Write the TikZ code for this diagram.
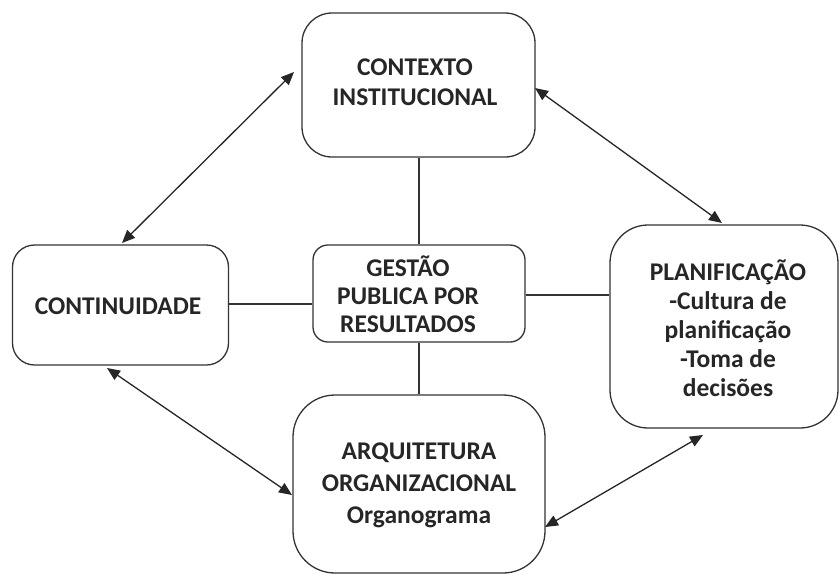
\documentclass[tikz,border=0pt]{standalone}
\usepackage{fontspec}
\setmainfont{Carlito}
\usetikzlibrary{arrows.meta}
\definecolor{linec}{HTML}{333333}
\definecolor{txtc}{HTML}{262626}
\tikzset{
  box/.style={draw=linec, line width=1.3pt, rectangle, inner sep=0pt},
  lbl/.style={align=center, text=txtc, font=\fontsize{25.5}{30}\selectfont\bfseries, inner sep=0pt},
  conn/.style={draw=linec, line width=1.2pt},
  biarrow/.style={draw=txtc, line width=1.3pt, {Triangle[length=13pt,width=11pt]}-{Triangle[length=13pt,width=11pt]}, shorten <=0pt, shorten >=0pt}
}
\begin{document}
\begin{tikzpicture}[x=1pt,y=-1pt]
\useasboundingbox (0,0) rectangle (840,576);
% boxes
\node[box, rounded corners=30pt, minimum width=233pt, minimum height=144pt] (ctx) at (418.5,85) {};
\node[box, rounded corners=22pt, minimum width=216pt, minimum height=120pt] (cont) at (120.5,305) {};
\node[box, rounded corners=15pt, minimum width=212pt, minimum height=97pt] (gest) at (419,293.5) {};
\node[box, rounded corners=38pt, minimum width=228pt, minimum height=203pt] (plan) at (724,326.5) {};
\node[box, rounded corners=42pt, minimum width=252pt, minimum height=178pt] (arq) at (419,484) {};
% texts
\node[lbl] (ctxt) at (415,82) {CONTEXTO\\INSTITUCIONAL};
\node[lbl] (contt) at (118,306) {CONTINUIDADE};
\node[lbl, font=\fontsize{25.5}{28}\selectfont\bfseries] (gestt) at (408,294) {GESTÃO\\PUBLICA POR\\RESULTADOS};
\node[lbl, font=\fontsize{25.5}{29}\selectfont\bfseries] (plant) at (728,328) {PLANIFICAÇÃO\\ -Cultura de\\planificação\\-Toma de\\decisões};
\node[lbl, font=\fontsize{25.5}{32}\selectfont\bfseries] (arqt) at (419,485) {ARQUITETURA\\ORGANIZACIONAL\\Organograma};
% plain connectors
\draw[conn] (ctx.south -| gest.north) -- (gest.north);
\draw[conn] (gest.south) -- (gest.south |- arq.north);
\draw[conn] (cont.east |- 0,304) -- (gest.west |- 0,304);
\draw[conn] (gest.east |- 0,295) -- (plan.west |- 0,295);
% arrow end points
\coordinate (a1) at (122,243);
\coordinate (a2) at (294,72);
\coordinate (b1) at (535,88);
\coordinate (b2) at (722,223);
\coordinate (c1) at (107,368);
\coordinate (c2) at (292,495);
\coordinate (d1) at (545,527);
\coordinate (d2) at (703,435);
\draw[biarrow] (a1) -- (a2);
\draw[biarrow] (b1) -- (b2);
\draw[biarrow] (c1) -- (c2);
\draw[biarrow] (d1) -- (d2);
\end{tikzpicture}
\end{document}
